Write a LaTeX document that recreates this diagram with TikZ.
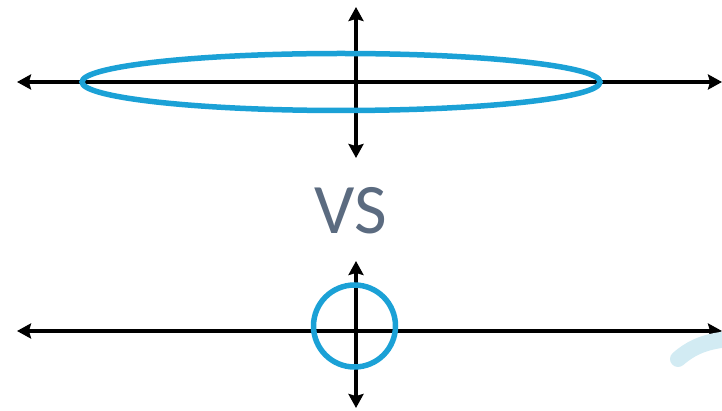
\documentclass[tikz,border=0pt]{standalone}
\usepackage{fontspec}
\setmainfont{Carlito}
\usetikzlibrary{arrows.meta, shapes.geometric}
\definecolor{ringblue}{HTML}{1BA1D6}
\definecolor{vsgray}{HTML}{5B6B80}
\definecolor{paleblue}{HTML}{D2EBF3}

\begin{document}
\begin{tikzpicture}[x=1pt, y=-1pt, >={Stealth[length=14pt, width=15pt, inset=2pt]}]
  \tikzset{axis/.style={line width=4.5pt, <->},
           ring/.style={draw=ringblue, line width=5.5pt}}
  \useasboundingbox (0,0) rectangle (722,411);

  % top: wide ellipse
  \coordinate (tl) at (17,82);
  \coordinate (tr) at (722,82);
  \coordinate (tt) at (356,7);
  \coordinate (tb) at (356,158);
  \draw[axis] (tl) -- (tr);
  \draw[axis] (tt) -- (tb);
  \node[ring, ellipse, minimum width=518pt, minimum height=57pt, inner sep=0pt] (wide) at (341,82) {};

  % label
  \node[text=vsgray, font=\fontsize{71}{71}\selectfont, anchor=base, inner sep=0pt] (vs) at (351,234) {VS};

  % bottom: circle
  \coordinate (bl) at (17,331);
  \coordinate (br) at (722,331);
  \coordinate (bt) at (356,261);
  \coordinate (bb) at (356,408);
  \draw[axis] (bl) -- (br);
  \draw[axis] (bt) -- (bb);
  \node[ring, circle, minimum size=82pt, inner sep=0pt] (round) at (354.5,326) {};

  % faint mark at right edge
  \draw[paleblue, line width=16pt, line cap=round] (678,359) .. controls (692,347) and (706,341) .. (730,339);
\end{tikzpicture}
\end{document}
